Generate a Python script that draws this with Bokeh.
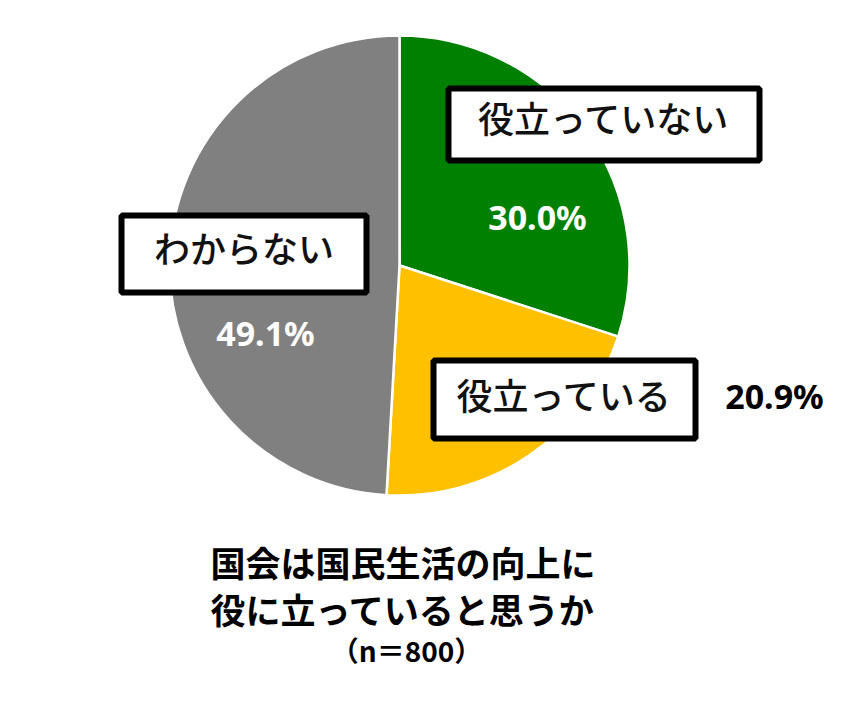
import math
from bokeh.plotting import figure
from bokeh.models import Range1d, ColumnDataSource
from bokeh.core.properties import value
from bokeh.embed import file_html
from bokeh.resources import INLINE

# ---- data ----
categories = ["役立っていない", "役立っている", "わからない"]
shares = [30.0, 20.9, 49.1]
colors = ["#008000", "#FFC000", "#808080"]
pct_labels = ["30.0%", "20.9%", "49.1%"]
title_lines = ["国会は国民生活の向上に", "役に立っていると思うか", "（n＝800）"]

W, H = 829, 693
TOP = 693


def sx(x):
    return x


def sy(y):
    return TOP - y


p = figure(width=W, height=H, output_backend="svg", toolbar_location=None,
           x_range=Range1d(0, W), y_range=Range1d(0, H),
           x_axis_type=None, y_axis_type=None, min_border=0)
p.grid.visible = False
p.outline_line_color = None
p.background_fill_color = "white"
p.border_fill_color = "white"

# ---- pie ----
cx, cy, r = sx(399), sy(265), 230
total = sum(shares)
starts, ends = [], []
a = math.pi / 2
for s in shares:
    starts.append(a)
    a = a - s / total * 2 * math.pi
    ends.append(a)
src = ColumnDataSource(dict(start=starts, end=ends, color=colors, cat=categories))
p.wedge(x=cx, y=cy, radius=r, start_angle="start", end_angle="end",
        direction="clock", fill_color="color", line_color="white",
        line_width=2.5, source=src)

# ---- label boxes (screen centre x, y, outer w, h, text y) ----
boxes = {
    "役立っていない": (603.5, 124, 317, 78, 116),
    "役立っている": (564, 399, 268, 84, 393),
    "わからない": (243.5, 253.5, 251, 83, 246),
}
bw = 6
for cat in categories:
    bx, by, ow, oh, ty = boxes[cat]
    p.rect(x=sx(bx), y=sy(by), width=ow - bw, height=oh - bw,
           fill_color="white", line_color="black", line_width=bw)
    p.text(x=[sx(bx)], y=[sy(ty)], text=[cat],
           text_font=value("Noto Sans CJK JP Medium"), text_font_size="36px",
           text_align="center", text_baseline="middle", text_color="#111111")

# ---- percent labels ----
pct_pos = {"30.0%": (537, 216, "white"), "20.9%": (774, 395, "black"),
           "49.1%": (265, 332, "white")}
for lab in pct_labels:
    px_, py_, col = pct_pos[lab]
    p.text(x=[sx(px_)], y=[sy(py_)], text=[lab],
           text_font=value("Noto Sans"), text_font_style="bold",
           text_font_size="34px", text_align="center",
           text_baseline="middle", text_color=col)

# ---- title ----
title_pos = [(402.5, 561, "35px"), (402.5, 608, "35px"), (406, 649, "28px")]
for line, (tx, ty, fs) in zip(title_lines, title_pos):
    p.text(x=[sx(tx)], y=[sy(ty)], text=[line],
           text_font=value("Noto Sans CJK JP"), text_font_style="bold",
           text_font_size=fs, text_align="center",
           text_baseline="middle", text_color="black")

open("out.html", "w").write(file_html(p, INLINE))
